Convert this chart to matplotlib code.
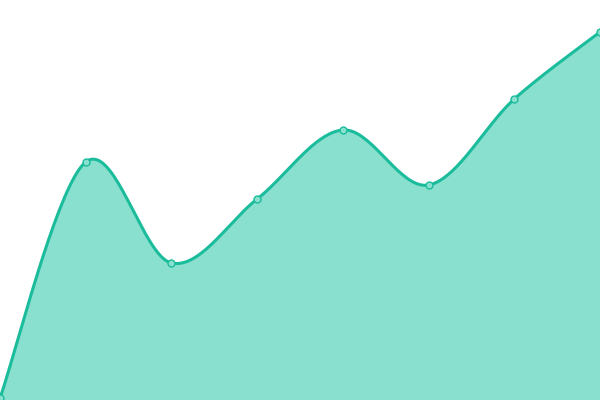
import numpy as np
import matplotlib.pyplot as plt

# valeurs
x_idx = [0, 1, 2, 3, 4, 5, 6, 7]
values = [2, 238, 137, 201, 270, 215, 301, 368]

LINE = "#1abc9c"
FILL = "#8ae0cf"


def catmull_rom(x, y, n=40):
    """Courbe lissée passant par les points (spline cardinale)."""
    x = np.asarray(x, float)
    y = np.asarray(y, float)
    px = np.concatenate([[x[0]], x, [x[-1]]])
    py = np.concatenate([[y[0]], y, [y[-1]]])
    xs, ys = [], []
    t = np.linspace(0, 1, n)
    for i in range(1, len(px) - 2):
        p0 = np.array([px[i], py[i]])
        p3 = np.array([px[i + 1], py[i + 1]])
        c1 = p0 + (p3 - np.array([px[i - 1], py[i - 1]])) / 6
        c2 = p3 - (np.array([px[i + 2], py[i + 2]]) - p0) / 6
        b = ((1 - t) ** 3)[:, None] * p0 + (3 * (1 - t) ** 2 * t)[:, None] * c1 \
            + (3 * (1 - t) * t ** 2)[:, None] * c2 + (t ** 3)[:, None] * p3
        xs.append(b[:, 0])
        ys.append(b[:, 1])
    return np.concatenate(xs), np.concatenate(ys)


sx, sy = catmull_rom(x_idx, values)

fig = plt.figure(figsize=(6, 4), dpi=100)
ax = fig.add_axes([0, 0, 1, 1])
ax.fill_between(sx, sy, 0, color=FILL, linewidth=0)
ax.plot(sx, sy, color=LINE, linewidth=2.2, solid_capstyle="round")
ax.plot(x_idx, values, "o", markersize=5, markerfacecolor=FILL,
        markeredgecolor=LINE, markeredgewidth=1, clip_on=False)
ax.set_xlim(0, 7)
ax.set_ylim(0, 400)
ax.axis("off")
fig.savefig("out.png", dpi=100)
